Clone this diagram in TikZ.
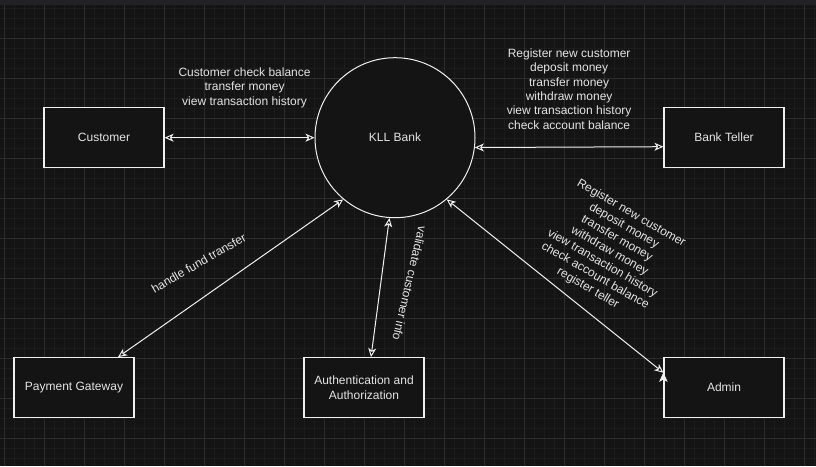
\documentclass[tikz,border=0pt]{standalone}
\usepackage{fontspec}
\setmainfont{Liberation Sans}
\usetikzlibrary{positioning,arrows.meta}

\definecolor{canvas}{RGB}{20,20,20}
\definecolor{topbar}{RGB}{34,34,36}
\definecolor{minorline}{RGB}{28,28,28}
\definecolor{majorline}{RGB}{44,44,44}
\definecolor{linecol}{RGB}{240,240,240}
\definecolor{textcol}{RGB}{228,228,228}

\newcommand\lblfont{\fontsize{12pt}{14.4pt}\selectfont}

\tikzset{
  entity/.style={draw=linecol, fill=canvas, line width=1.2pt, minimum width=120pt,
    minimum height=60pt, text=textcol, font=\lblfont, align=center},
  hub/.style={circle, draw=linecol, fill=canvas, line width=1pt, minimum size=160pt,
    text=textcol, font=\lblfont},
  flow/.style={<->, draw=linecol, line width=1pt},
  flowtext/.style={text=textcol, font=\lblfont, align=center, inner sep=0pt},
}

\begin{document}
\begin{tikzpicture}[x=1pt, y=-1pt, on grid, >={Stealth[length=9pt,width=8pt,inset=2.5pt]}]
   % canvas and grid
   \fill[canvas] (0,0) rectangle (816,466);
   \useasboundingbox (0,0) rectangle (816,466);
   \fill[topbar] (0,0) rectangle (816,5);
   \foreach \x in {4,14,...,814} \draw[minorline, line width=0.6pt] (\x,5) -- (\x,466);
   \foreach \y in {8,18,...,458} \draw[minorline, line width=0.6pt] (0,\y) -- (816,\y);
   \foreach \x in {4,44,...,804} \draw[majorline, line width=0.8pt] (\x,5) -- (\x,466);
   \foreach \y in {38,78,...,438} \draw[majorline, line width=0.8pt] (0,\y) -- (816,\y);

   \node[hub] (bank) at (395,137.7) {KLL Bank};
   \node[entity] (customer) [left=291pt of bank] {Customer};
   \node[entity] (teller) [right=329pt of bank] {Bank Teller};
   \node[entity] (gateway) [below left=250pt and 321pt of bank] {Payment Gateway};
   \node[entity] (auth) [below left=250pt and 31pt of bank] {Authentication and\\Authorization};
   \node[entity] (admin) [below right=250pt and 329pt of bank] {Admin};

   \path[flow]
   (customer)
       edge node[flowtext, xshift=5pt, yshift=50pt]
       {Customer check balance\\transfer money\\view transaction history} (bank)
   (bank.353.5)
       edge node[flowtext, yshift=58pt]
       {Register new customer\\deposit money\\transfer money\\withdraw money\\view transaction history\\check account balance}
       ([yshift=-9pt]teller.west)
   ([xshift=44pt]gateway.north)
       edge node[flowtext, xshift=-32pt, yshift=15pt, rotate=30] {handle fund transfer} (bank.230)
   ([xshift=7pt]auth.north)
       edge node[flowtext, xshift=29.5pt, yshift=4pt, rotate=-103] {validate customer info} (bank.266.5)
   ([yshift=15pt]admin.west)
       edge node[flowtext, xshift=54.5pt, yshift=35pt, rotate=-30]
       {Register new customer\\deposit money\\transfer money\\withdraw money\\view transaction history\\check account balance\\register teller}
       (bank.310.5);
\end{tikzpicture}
\end{document}
